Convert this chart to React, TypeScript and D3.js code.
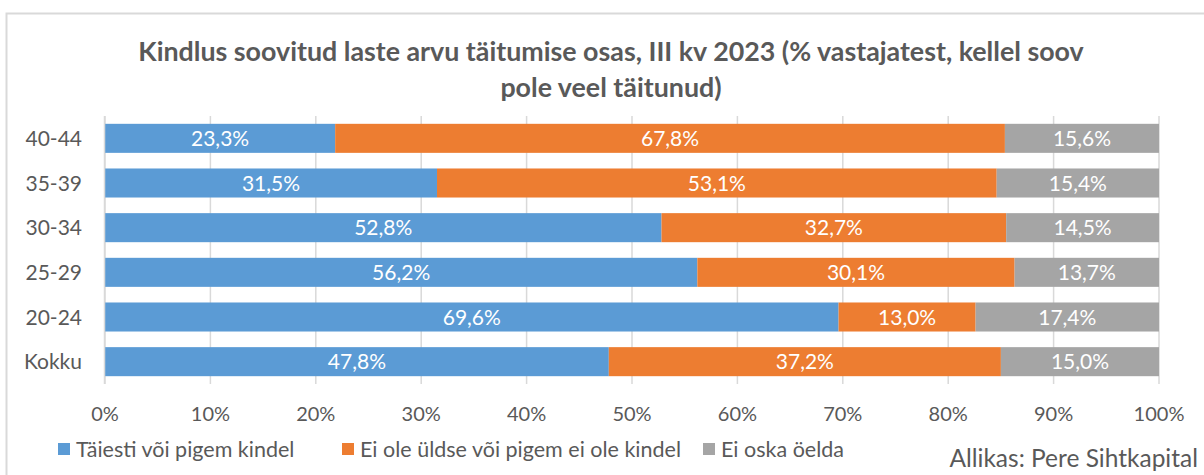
import React, { useEffect, useRef } from 'react'
import * as d3 from 'd3'

const categories = ['40-44', '35-39', '30-34', '25-29', '20-24', 'Kokku']
const seriesNames = [
  'Täiesti või pigem kindel',
  'Ei ole üldse või pigem ei ole kindel',
  'Ei oska öelda',
]
const certain = [23.3, 31.5, 52.8, 56.2, 69.6, 47.8]
const notCertain = [67.8, 53.1, 32.7, 30.1, 13.0, 37.2]
const dontKnow = [15.6, 15.4, 14.5, 13.7, 17.4, 15.0]
const xTicks = [0, 0.1, 0.2, 0.3, 0.4, 0.5, 0.6, 0.7, 0.8, 0.9, 1]
const colors = ['#5B9BD5', '#ED7D31', '#A5A5A5']
const titleLines = [
  'Kindlus soovitud laste arvu täitumise osas, III kv 2023 (% vastajatest, kellel soov',
  'pole veel täitunud)',
]
const source = 'Allikas: Pere Sihtkapital'

const W = 1204
const H = 475
const FONT = 'Lato, "Open Sans", sans-serif'
const TEXT = '#595959'

const App = () => {
  const svgRef = useRef<SVGSVGElement>(null)

  useEffect(() => {
    const svg = d3.select(svgRef.current)
    svg.selectAll('*').remove()

    const margin = { top: 116, right: 45, bottom: 91, left: 105 }
    const w = W - margin.left - margin.right
    const h = H - margin.top - margin.bottom

    const rows = categories.map((c, i) => ({
      cat: c,
      s0: certain[i],
      s1: notCertain[i],
      s2: dontKnow[i],
    }))

    // shares of each row, like excel's 100% stacked bar
    const stack = d3
      .stack<any>()
      .keys(['s0', 's1', 's2'])
      .offset(d3.stackOffsetExpand)
    const layers = stack(rows)

    const x = d3.scaleLinear().domain([0, 1]).range([0, w])
    const y = d3
      .scaleBand()
      .domain(categories)
      .range([0, h])
      .paddingInner(0.35)
      .paddingOuter(0.175)

    // outer frame
    svg
      .append('rect')
      .attr('x', 6.5)
      .attr('y', 13.5)
      .attr('width', W + 20)
      .attr('height', H + 20)
      .attr('fill', 'none')
      .attr('stroke', '#D9D9D9')
      .attr('stroke-width', 2)

    const title = svg
      .append('text')
      .attr('text-anchor', 'middle')
      .attr('font-family', FONT)
      .attr('font-weight', 'bold')
      .attr('font-size', 26.8)
      .attr('fill', TEXT)
    titleLines.forEach((t, i) => {
      title
        .append('tspan')
        .attr('x', 611)
        .attr('y', 61 + i * 36)
        .text(t)
    })

    const g = svg
      .append('g')
      .attr('transform', `translate(${margin.left},${margin.top})`)

    // gridlines
    g.selectAll('.grid')
      .data(xTicks)
      .enter()
      .append('line')
      .attr('x1', (d) => x(d))
      .attr('x2', (d) => x(d))
      .attr('y1', 0)
      .attr('y2', h)
      .attr('stroke', '#D9D9D9')
      .attr('stroke-width', 1.5)

    const layer = g
      .selectAll('.layer')
      .data(layers)
      .enter()
      .append('g')
      .attr('fill', (d, i) => colors[i])

    layer
      .selectAll('rect')
      .data((d) => d)
      .enter()
      .append('rect')
      .attr('x', (d) => x(d[0]))
      .attr('y', (d) => y(d.data.cat)!)
      .attr('width', (d) => x(d[1]) - x(d[0]))
      .attr('height', y.bandwidth())

    layers.forEach((ly) => {
      g.selectAll(null)
        .data(ly)
        .enter()
        .append('text')
        .attr('x', (d) => x((d[0] + d[1]) / 2))
        .attr('y', (d) => y(d.data.cat)! + y.bandwidth() / 2)
        .attr('dy', '0.36em')
        .attr('text-anchor', 'middle')
        .attr('font-family', FONT)
        .attr('font-size', 21)
        .attr('fill', '#fff')
        .text((d) => d.data[ly.key].toFixed(1).replace('.', ',') + '%')
    })

    // y axis
    g.append('line')
      .attr('x1', -0.5)
      .attr('x2', -0.5)
      .attr('y1', 0)
      .attr('y2', h)
      .attr('stroke', '#D9D9D9')
      .attr('stroke-width', 1.5)

    g.selectAll('.ylab')
      .data(categories)
      .enter()
      .append('text')
      .attr('x', -23)
      .attr('y', (d) => y(d)! + y.bandwidth() / 2)
      .attr('dy', '0.36em')
      .attr('text-anchor', 'end')
      .attr('font-family', FONT)
      .attr('font-size', 21)
      .attr('fill', TEXT)
      .text((d) => d)

    g.selectAll('.xlab')
      .data(xTicks)
      .enter()
      .append('text')
      .attr('x', (d) => x(d))
      .attr('y', h + 37)
      .attr('text-anchor', 'middle')
      .attr('font-family', FONT)
      .attr('font-size', 20)
      .attr('fill', TEXT)
      .text((d) => d3.format('.0%')(d))

    // legend
    const legendX = [58, 342, 703]
    seriesNames.forEach((name, i) => {
      const lg = svg.append('g').attr('transform', `translate(${legendX[i]},449)`)
      lg.append('rect')
        .attr('x', 0)
        .attr('y', -6)
        .attr('width', 12)
        .attr('height', 12)
        .attr('fill', colors[i])
      lg.append('text')
        .attr('x', 18)
        .attr('dy', '0.36em')
        .attr('font-family', FONT)
        .attr('font-size', 21.5)
        .attr('fill', TEXT)
        .text(name)
    })

    svg
      .append('text')
      .attr('x', 1198)
      .attr('y', 467)
      .attr('text-anchor', 'end')
      .attr('font-family', FONT)
      .attr('font-size', 24.5)
      .attr('fill', TEXT)
      .text(source)
  }, [])

  return (
    <svg
      ref={svgRef}
      width={W}
      height={H}
      style={{ position: 'absolute', left: 0, top: 0, background: '#fff' }}
    ></svg>
  )
}

export default App
